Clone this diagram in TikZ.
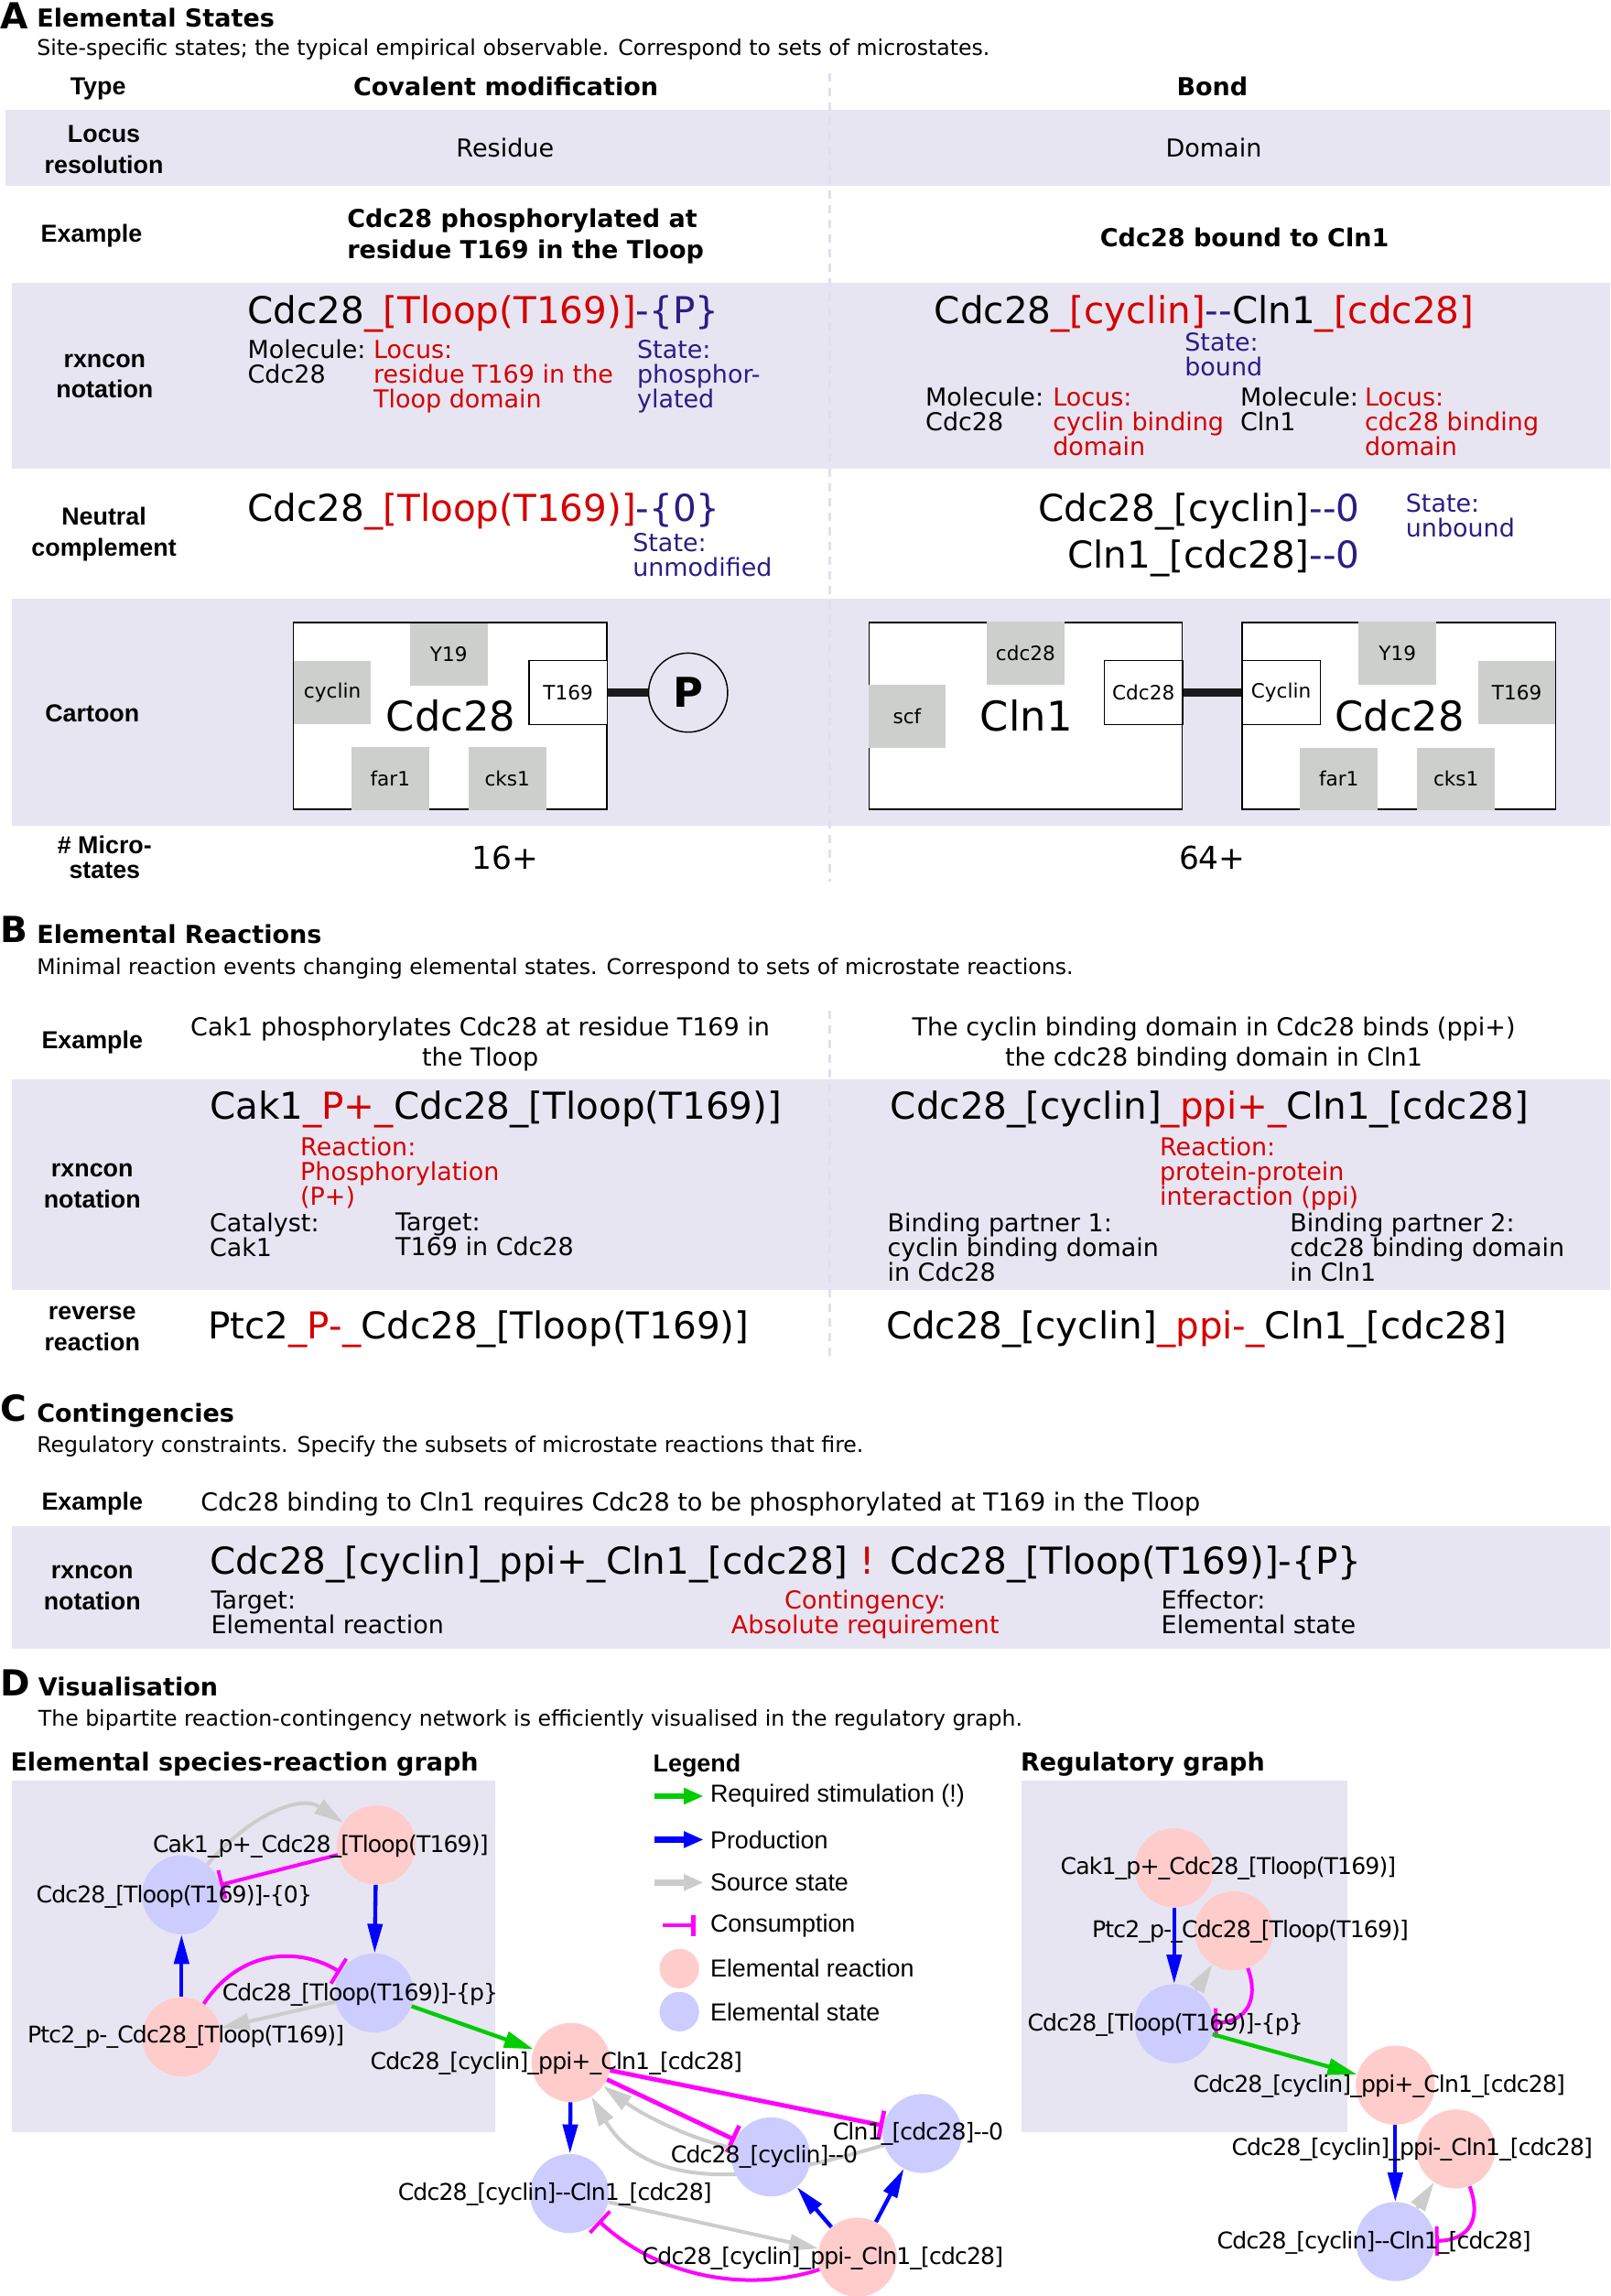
\documentclass[tikz,border=0pt]{standalone}
\usepackage{fontspec}
\setmainfont{DejaVu Sans}
\newfontfamily\arialfont{Liberation Sans}
\newfontfamily\graphfont[LetterSpace=-3.4]{DejaVu Sans}
\usetikzlibrary{arrows.meta}

\definecolor{bandcol}{HTML}{E7E5F2}
\definecolor{sepcol}{HTML}{E1DFEE}
\definecolor{locred}{HTML}{D40000}
\definecolor{statblue}{HTML}{2C1C85}
\definecolor{domgrey}{HTML}{CDCFCD}
\definecolor{linkcol}{HTML}{1A1A1A}
\definecolor{reactcol}{HTML}{FFCCCC}
\definecolor{statecol}{HTML}{CCCCFF}
\definecolor{stimcol}{HTML}{00CC00}
\definecolor{conscol}{HTML}{FF00FF}

\newcommand{\tred}[1]{\textcolor{locred}{#1}}
\newcommand{\tblu}[1]{\textcolor{statblue}{#1}}
\newcommand{\dd}{-{}-}

\tikzset{
  band/.style={fill=bandcol, draw=none},
  sepline/.style={draw=sepcol, line width=1.8pt, dash pattern=on 5.8pt off 4.2pt},
  letter/.style={font=\fontsize{24.5}{26}\bfseries\selectfont, inner sep=0, anchor=west},
  sectitle/.style={font=\fontsize{16.9}{18}\bfseries\selectfont, inner sep=0, anchor=west},
  subtitle/.style={font=\fontsize{14.75}{16}\selectfont, inner sep=0, anchor=west},
  rowlab/.style={font=\arialfont\fontsize{16.8}{21}\bfseries\selectfont, inner sep=0, align=center},
  colhead/.style={font=\fontsize{16.9}{21}\bfseries\selectfont, inner sep=0, align=center},
  plaintxt/.style={font=\fontsize{16.9}{21}\selectfont, inner sep=0, align=center},
  formula/.style={font=\fontsize{25.3}{28}\selectfont, inner sep=0, anchor=west},
  note/.style={font=\fontsize{16.85}{16.9}\selectfont, inner sep=0, anchor=north west, align=left},
  protein/.style={draw=black, fill=white, line width=0.9pt, minimum width=214pt, minimum height=127.5pt},
  dombox/.style={fill=domgrey, inner sep=0, minimum width=53pt, minimum height=43pt, font=\fontsize{13.5}{16}\selectfont},
  sitebox/.style={draw=black, fill=white, line width=0.9pt, inner sep=0, minimum width=53.5pt, minimum height=44pt, font=\fontsize{13.5}{16}\selectfont},
  protname/.style={font=\fontsize{28}{32}\selectfont, inner sep=0},
  linkbar/.style={draw=linkcol, line width=5.8pt},
  react/.style={circle, fill=reactcol, inner sep=0, minimum size=54pt},
  statenode/.style={circle, fill=statecol, inner sep=0, minimum size=54pt},
  lbl/.style={font=\graphfont\fontsize{15.7}{20}\selectfont, inner sep=0},
  legtext/.style={font=\arialfont\fontsize{16.8}{20}\selectfont, inner sep=0, anchor=west},
  stim/.style={draw=stimcol, line width=2.7pt, -{Triangle[length=20pt,width=11pt]}},
  prod/.style={draw=blue, line width=2.7pt, -{Triangle[length=20pt,width=10pt]}},
  srcst/.style={draw=black!20, line width=2.5pt, -{Triangle[length=20pt,width=11pt]}},
  cons/.style={draw=conscol, line width=2.5pt, -{Bar[width=20pt]}},
  consthick/.style={cons, line width=3pt},
  legarrow/.style={line width=4.2pt, -{Triangle[length=13.5pt,width=10.5pt]}},
}

\begin{document}
\begin{tikzpicture}[x=1pt, y=-1pt]
  \useasboundingbox (0,0) rectangle (1100,1568);

  % Shaded rows of the tables
  \fill[band] (4,75) rectangle (1100,127);
  \fill[band] (8,193) rectangle (1100,320);
  \fill[band] (8,409) rectangle (1100,564);
  \fill[band] (8,737) rectangle (1100,881);
  \fill[band] (8,1042) rectangle (1100,1126);
  \fill[band] (8,1216) rectangle (338,1456);
  \fill[band] (698,1216) rectangle (920,1456);

  % Column separators
  \coordinate (sepAtop) at (567,50);
  \coordinate (sepAbot) at (567,602);
  \coordinate (sepBtop) at (567,690);
  \coordinate (sepBbot) at (567,930);
  \draw[sepline] (sepAtop) -- (sepAbot);
  \draw[sepline] (sepBtop) -- (sepBbot);

  % Section A
  \node[letter] (letA) at (0,11) {A};
  \node[sectitle] (titleA) at (25,12) {Elemental States};
  \node[subtitle] (subA) at (25,33.5) {Site-specific states; the typical empirical observable. Correspond to sets of microstates.};
  \node[rowlab] (rowType) at (67,60.5) {Type};
  \node[colhead] (headCov) at (345.5,59) {Covalent modification};
  \node[colhead] (headBond) at (828,59) {Bond};
  \node[rowlab] (rowLocus) at (71,102) {Locus\\resolution};
  \node[plaintxt] (resCov) at (345,101) {Residue};
  \node[plaintxt] (resBond) at (829,101) {Domain};
  \node[rowlab] (rowExA) at (62.5,161) {Example};
  \node[colhead, align=left] (exCov) at (359,161.5) {Cdc28 phosphorylated at\\residue T169 in the Tloop};
  \node[colhead] (exBond) at (850,162) {Cdc28 bound to Cln1};

  \node[rowlab] (rowRxnA) at (71.5,257) {rxncon\\notation};
  \node[formula] (fCov) at (169,214.5) {Cdc28\tred{\_[Tloop(T169)]}\tblu{-\{P\}}};
  \node[note] (nMolA) at (169,232) {Molecule:\\Cdc28};
  \node[note, text=locred] (nLocA) at (255,232) {Locus:\\residue T169 in the\\Tloop domain};
  \node[note, text=statblue] (nStA) at (435,232) {State:\\phosphor-\\ylated};
  \node[formula] (fBond) at (638,214.5) {Cdc28\tred{\_[cyclin]}\tblu{\dd}Cln1\tred{\_[cdc28]}};
  \node[note, text=statblue] (nStB) at (809,227) {State:\\bound};
  \node[note] (nMolB) at (632,264.5) {Molecule:\\Cdc28};
  \node[note, text=locred] (nLocB) at (719,264.5) {Locus:\\cyclin binding\\domain};
  \node[note] (nMolC) at (847,264.5) {Molecule:\\Cln1};
  \node[note, text=locred] (nLocC) at (932,264.5) {Locus:\\cdc28 binding\\domain};

  \node[rowlab] (rowNeut) at (71,365) {Neutral\\complement};
  \node[formula] (fNeutA) at (169,349.5) {Cdc28\tred{\_[Tloop(T169)]}\tblu{-\{0\}}};
  \node[note, text=statblue] (nStC) at (432,364) {State:\\unmodified};
  \node[formula, anchor=east] (fNeutB) at (929,349.5) {Cdc28\_[cyclin]\tblu{\dd0}};
  \node[formula, anchor=east] (fNeutC) at (929,381.5) {Cln1\_[cdc28]\tblu{\dd0}};
  \node[note, text=statblue] (nStD) at (960,337) {State:\\unbound};

  % Cartoons
  \node[rowlab] (rowCart) at (63,487) {Cartoon};
  \node[protein] (cdcL) at (307.5,489) {};
  \node[dombox] (y19L) at (306.5,447) {Y19};
  \node[dombox] (cycL) at (227,473) {cyclin};
  \node[sitebox] (t169L) at (388,473) {T169};
  \node[dombox] (farL) at (266.5,531.5) {far1};
  \node[dombox] (cksL) at (346.5,531.5) {cks1};
  \node[protname] (nameL) at (308,489) {Cdc28};
  \node[draw=black, circle, line width=0.9pt, inner sep=0, minimum size=54pt, font=\fontsize{28}{30}\bfseries\selectfont] (phos) at (470,473) {P};
  \draw[linkbar] (t169L) -- (phos);

  \node[protein] (clnM) at (700.5,489) {};
  \node[dombox] (cdcM) at (700.5,446) {cdc28};
  \node[dombox] (scfM) at (619.5,489) {scf};
  \node[sitebox] (bindM) at (781,473) {Cdc28};
  \node[protname] (nameM) at (701,489) {Cln1};

  \node[protein] (cdcR) at (955.5,489) {};
  \node[sitebox] (bindR) at (875,473) {Cyclin};
  \node[dombox] (y19R) at (954.5,446) {Y19};
  \node[dombox] (t169R) at (1036,473) {T169};
  \node[dombox] (farR) at (914.5,532) {far1};
  \node[dombox] (cksR) at (994.5,532) {cks1};
  \node[protname] (nameR) at (956,489) {Cdc28};
  \draw[linkbar] (bindM) -- (bindR);

  \node[rowlab, font=\arialfont\fontsize{16.8}{17}\bfseries\selectfont] (rowMicro) at (71.5,585.5) {\# Micro-\\states};
  \node[font=\fontsize{21.5}{22}\selectfont, inner sep=0] (numL) at (345,586) {16+};
  \node[font=\fontsize{21.5}{22}\selectfont, inner sep=0] (numR) at (828,586) {64+};

  % Section B
  \node[letter] (letB) at (0,635) {B};
  \node[sectitle] (titleB) at (25,638) {Elemental Reactions};
  \node[subtitle] (subB) at (25,661.5) {Minimal reaction events changing elemental states. Correspond to sets of microstate reactions.};
  \node[rowlab] (rowExB) at (63,712) {Example};
  \node[plaintxt] (exP) at (328,713) {Cak1 phosphorylates Cdc28 at residue T169 in\\the Tloop};
  \node[plaintxt] (exPpi) at (829,713) {The cyclin binding domain in Cdc28 binds (ppi+)\\the cdc28 binding domain in Cln1};

  \node[rowlab] (rowRxnB) at (63,810) {rxncon\\notation};
  \node[formula] (fPhos) at (143,757.5) {Cak1\tred{\_P+\_}Cdc28\_[Tloop(T169)]};
  \node[note, text=locred] (nReaP) at (205,776) {Reaction:\\Phosphorylation\\(P+)};
  \node[note] (nCat) at (143,828) {Catalyst:\\Cak1};
  \node[note] (nTar) at (270,828) {Target:\\T169 in Cdc28};
  \node[formula] (fPpi) at (608,757.5) {Cdc28\_[cyclin]\tred{\_ppi+\_}Cln1\_[cdc28]};
  \node[note, text=locred] (nReaQ) at (792,776) {Reaction:\\protein-protein\\interaction (ppi)};
  \node[note] (nBind1) at (606,828) {Binding partner 1:\\cyclin binding domain\\in Cdc28};
  \node[note] (nBind2) at (881,828) {Binding partner 2:\\cdc28 binding domain\\in Cln1};

  \node[rowlab] (rowRev) at (63,907.5) {reverse\\reaction};
  \node[formula] (fRevP) at (142,907.5) {Ptc2\tred{\_P-\_}Cdc28\_[Tloop(T169)]};
  \node[formula] (fRevQ) at (605,907.5) {Cdc28\_[cyclin]\tred{\_ppi-\_}Cln1\_[cdc28]};

  % Section C
  \node[letter] (letC) at (0,962) {C};
  \node[sectitle] (titleC) at (25,966.5) {Contingencies};
  \node[subtitle] (subC) at (25,987.5) {Regulatory constraints. Specify the subsets of microstate reactions that fire.};
  \node[rowlab] (rowExC) at (63,1027) {Example};
  \node[plaintxt, anchor=west] (exC) at (137,1027.5) {Cdc28 binding to Cln1 requires Cdc28 to be phosphorylated at T169 in the Tloop};
  \node[rowlab] (rowRxnC) at (63,1084.5) {rxncon\\notation};
  \node[formula] (fCont) at (143,1068.5) {Cdc28\_[cyclin]\_ppi+\_Cln1\_[cdc28] \tred{!} Cdc28\_[Tloop(T169)]-\{P\}};
  \node[note] (nTarC) at (144,1086) {Target:\\Elemental reaction};
  \node[note, text=locred, align=center, anchor=north] (nCont) at (591,1086) {Contingency:\\Absolute requirement};
  \node[note] (nEff) at (793,1086) {Effector:\\Elemental state};

  % Section D
  \node[letter] (letD) at (0,1149) {D};
  \node[sectitle] (titleD) at (26,1152) {Visualisation};
  \node[subtitle] (subD) at (26,1174.5) {The bipartite reaction-contingency network is efficiently visualised in the regulatory graph.};
  \node[sectitle] (headEsr) at (7,1205) {Elemental species-reaction graph};
  \node[rowlab, anchor=west] (headLeg) at (446,1206) {Legend};
  \node[sectitle] (headReg) at (697,1205) {Regulatory graph};

  % Legend rows
  \foreach \nm/\yy/\sty/\txt in {st/1226.6/stimcol/Required stimulation (!), pr/1256.3/blue/Production, sr/1285.6/black!20/Source state} {
    \coordinate (legA\nm) at (447,\yy);
    \coordinate (legB\nm) at (480.6,\yy);
    \draw[legarrow, draw=\sty] (legA\nm) -- (legB\nm);
    \node[legtext] (legT\nm) at (485,\yy) {\txt};
  }
  \coordinate (legAcons) at (452.8,1315);
  \coordinate (legBcons) at (475,1315);
  \draw[draw=conscol, line width=2.5pt, -{Bar[width=14.6pt,line width=3pt]}] (legAcons) -- (legBcons);
  \node[legtext] (legTcons) at (485,1315) {Consumption};
  \node[react, minimum size=27pt] (legReact) at (464,1344.4) {};
  \node[legtext] (legTreact) at (485,1344.4) {Elemental reaction};
  \node[statenode, minimum size=27pt] (legState) at (464,1373.8) {};
  \node[legtext] (legTstate) at (485,1373.8) {Elemental state};

  % Species-reaction graph
  \node[react] (cak) at (257,1260) {};
  \node[statenode] (tzero) at (124,1294) {};
  \node[react] (ptc) at (124,1391) {};
  \node[statenode] (tphos) at (255.5,1361) {};
  \node[react] (ppip) at (390,1408.5) {};
  \node[statenode] (bound) at (389,1498) {};
  \node[statenode] (clnzero) at (630,1457) {};
  \draw[srcst] (clnzero) .. controls (560,1478) and (450,1510) .. (ppip);
  \node[statenode] (cyczero) at (526.6,1473) {};
  \node[react] (ppim) at (585.6,1541.5) {};

  \draw[srcst] (tzero) .. controls (170,1240) and (205,1225) .. (cak);
  \draw[cons] (cak) -- (tzero);
  \draw[prod] (cak) -- (tphos);
  \draw[prod] (ptc) -- (tzero);
  \draw[cons] (ptc) .. controls (165,1330) and (205,1330) .. (tphos);
  \draw[srcst] (tphos) -- (ptc);
  \draw[stim] (tphos) -- (ppip);
  \draw[prod] (ppip) -- (bound);
  \draw[consthick] (ppip) -- (cyczero);
  \draw[consthick] (ppip) -- (clnzero);
  \draw[srcst] (cyczero) .. controls (470,1460) and (440,1445) .. (ppip);
  \draw[srcst] (bound) -- (ppim);
  \draw[cons] (ppim) .. controls (510,1566) and (450,1555) .. (bound);
  \draw[prod] (ppim) -- (cyczero);
  \draw[prod] (ppim) -- (clnzero);

  \node[lbl] (lblCak) at (219,1261) {Cak1\_p+\_Cdc28\_[Tloop(T169)]};
  \node[lbl] (lblTzero) at (119,1295.5) {Cdc28\_[Tloop(T169)]-\{0\}};
  \node[lbl] (lblPtc) at (127,1391) {Ptc2\_p-\_Cdc28\_[Tloop(T169)]};
  \node[lbl] (lblTphos) at (246,1362) {Cdc28\_[Tloop(T169)]-\{p\}};
  \node[lbl] (lblPpip) at (380,1409) {Cdc28\_[cyclin]\_ppi+\_Cln1\_[cdc28]};
  \node[lbl] (lblBound) at (379,1498.5) {Cdc28\_[cyclin]\dd Cln1\_[cdc28]};
  \node[lbl] (lblCyc) at (522,1473) {Cdc28\_[cyclin]\dd0};
  \node[lbl] (lblCln) at (627,1457.5) {Cln1\_[cdc28]\dd0};
  \node[lbl] (lblPpim) at (562,1542) {Cdc28\_[cyclin]\_ppi-\_Cln1\_[cdc28]};

  % Regulatory graph
  \node[react] (rcak) at (802,1275.5) {};
  \node[react] (rptc) at (842.8,1318.6) {};
  \node[statenode] (rphos) at (802,1382) {};
  \node[react] (rppip) at (953,1424) {};
  \node[react] (rppim) at (994.3,1467.6) {};
  \node[statenode] (rbound) at (953,1530.8) {};

  \draw[prod] (rcak) -- (rphos);
  \draw[srcst] (rphos) -- (rptc);
  \draw[cons] (rptc) .. controls (860,1365) and (852,1381) .. (rphos);
  \draw[stim] (rphos) -- (rppip);
  \draw[prod] (rppip) -- (rbound);
  \draw[srcst] (rbound) -- (rppim);
  \draw[cons] (rppim) .. controls (1012,1515) and (1004,1530) .. (rbound);

  \node[lbl] (lblRcak) at (839,1276) {Cak1\_p+\_Cdc28\_[Tloop(T169)]};
  \node[lbl] (lblRptc) at (854,1319) {Ptc2\_p-\_Cdc28\_[Tloop(T169)]};
  \node[lbl] (lblRphos) at (796,1382.7) {Cdc28\_[Tloop(T169)]-\{p\}};
  \node[lbl] (lblRppip) at (942,1425) {Cdc28\_[cyclin]\_ppi+\_Cln1\_[cdc28]};
  \node[lbl] (lblRppim) at (964.5,1468) {Cdc28\_[cyclin]\_ppi-\_Cln1\_[cdc28]};
  \node[lbl] (lblRbound) at (938.5,1531.5) {Cdc28\_[cyclin]\dd Cln1\_[cdc28]};
\end{tikzpicture}
\end{document}
